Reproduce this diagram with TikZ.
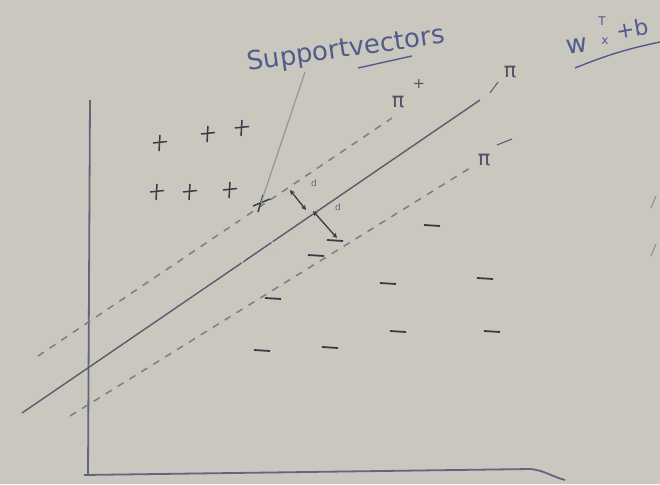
\documentclass[tikz,border=0pt]{standalone}
\usepackage{fontspec}
\setmainfont{DejaVu Sans}
\usetikzlibrary{arrows.meta}
\definecolor{board}{RGB}{201,199,190}
\definecolor{ink}{RGB}{98,102,124}
\definecolor{inkdark}{RGB}{58,58,72}
\definecolor{blueink}{RGB}{80,92,140}
\tikzset{
  every node/.style={inner sep=0.5pt},
  axisline/.style={draw=ink, line width=1.8pt},
  hyper/.style={draw=ink!90!black, line width=1.4pt},
  marginline/.style={draw=ink!85, line width=1.5pt, dash pattern=on 7pt off 7pt},
  faint/.style={draw=ink!35, line width=1pt},
  plusmark/.style={draw=inkdark, line width=1.5pt},
  minusmark/.style={draw=inkdark, line width=1.8pt},
  dist/.style={draw=inkdark, line width=1.3pt, {Stealth[length=5pt,width=5pt]}-{Stealth[length=5pt,width=5pt]}},
  lbl/.style={text=ink!80!black, font=\huge},
}
\begin{document}
\begin{tikzpicture}[x=1pt,y=-1pt]
\fill[board] (0,0) rectangle (660,484);
\useasboundingbox (0,0) rectangle (660,484);
% axes
\coordinate (ytop) at (90,100);
\coordinate (orig) at (88,475);
\coordinate (xmid) at (530,469);
\coordinate (xend) at (565,480);
\draw[axisline] (ytop) -- (orig);
\draw[axisline] (84,475) -- (xmid) to[out=-5,in=165] (xend);
% hyperplanes
\coordinate (pi0a) at (22,413);
\coordinate (pi0b) at (480,100);
\draw[hyper] (pi0a) -- (pi0b);
\coordinate (pipa) at (38,356);
\coordinate (pipb) at (392,118);
\draw[marginline] (pipa) -- (pipb);
\coordinate (pima) at (70,416);
\coordinate (pimb) at (470,168);
\draw[marginline] (pima) -- (pimb);
% faint perpendicular guides
\draw[faint] (230,212) -- (300,262);
\draw[faint] (262,200) -- (240,270);
% labels
\node[lbl] (lpi) at (510,72) {π};
\draw[hyper, line width=1pt] (498,82) -- (490,93);
\node[lbl] (lpip) at (398,102) {π};
\node[text=ink!80!black, font=\Large] (lpips) at (419,84) {+};
\node[lbl] (lpim) at (484,160) {π};
\draw[hyper, line width=1.1pt] (497,145) -- (512,139);
\node[text=blueink, font=\fontsize{26}{28}\selectfont, rotate=8] (sv) at (346,50) {Supportvectors};
\draw[draw=blueink, line width=1.4pt] (358,68) -- (412,56);
\node[text=blueink, font=\fontsize{26}{28}\selectfont, rotate=8] (ww) at (577,46) {w};
\node[text=blueink, font=\large] (wt) at (602,21) {T};
\node[text=blueink, font=\large] (wxx) at (605,41) {x};
\node[text=blueink, font=\fontsize{22}{24}\selectfont, rotate=10] (wb) at (632,29) {+b};
\draw[draw=blueink, line width=1.4pt] (575,68) to[bend left=5] (660,42);
% plus points
\foreach \n/\x/\y in {p1/160/143,p2/208/134,p3/242/128,p4/157/192,p5/190/192,p6/230/190}{
  \coordinate (\n) at (\x,\y);
  \draw[plusmark] ([xshift=-7pt]\n) -- ([xshift=7pt,yshift=1.5pt]\n);
  \draw[plusmark] ([yshift=8pt]\n) -- ([xshift=-1pt,yshift=-8pt]\n);
}
\coordinate (sp) at (261,203);
\draw[plusmark] (253,206) -- (270,199);
\draw[plusmark] (263,195) -- (258,212);
% support vector pointer
\coordinate (svtip) at (305,72);
\draw[draw=ink!70, line width=1.2pt] (svtip) -- (sp);
% minus points
\foreach \x/\y in {335/240,432/225,316/255,388/283,485/278,273/298,398/331,492/331,262/350,330/347}
  \draw[minusmark] (\x-8,\y) -- (\x+8,\y+1);
% distance arrows
\coordinate (d1a) at (290,190);
\coordinate (d1b) at (306,210);
\coordinate (d2a) at (313,211);
\coordinate (d2b) at (337,238);
\draw[dist] (d1a) -- (d1b);
\draw[dist] (d2a) -- (d2b);
\node[text=ink, font=\small] (dl1) at (314,183) {d};
\node[text=ink, font=\small] (dl2) at (338,207) {d};
% stray marks at right edge
\draw[draw=ink!70, line width=1.2pt] (656,196) -- (651,208);
\draw[draw=ink!70, line width=1.2pt] (656,244) -- (651,256);
\end{tikzpicture}
\end{document}
